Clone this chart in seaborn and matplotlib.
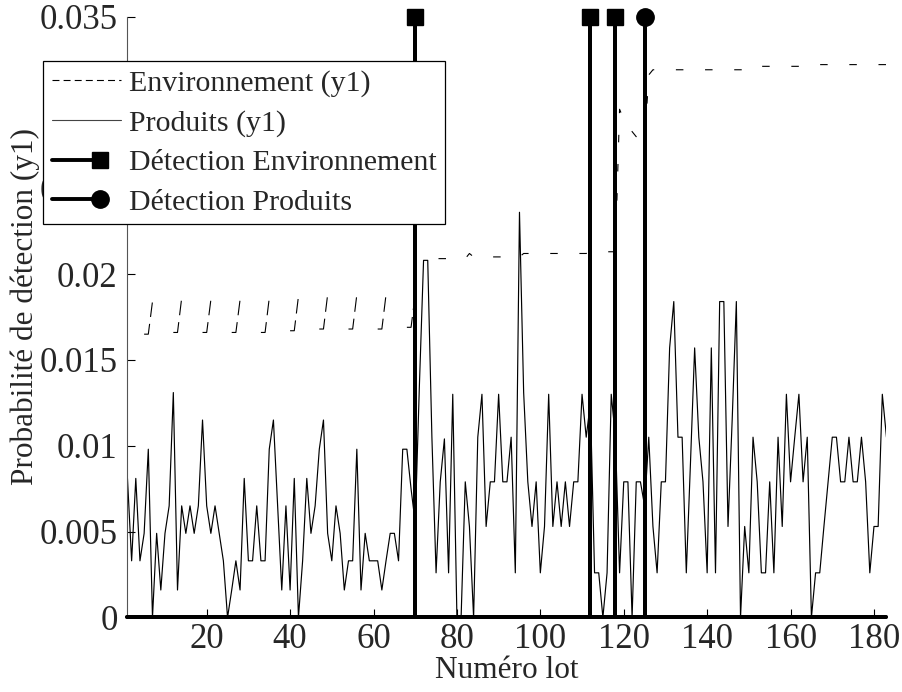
import numpy as np
import pandas as pd
import matplotlib
matplotlib.use("Agg")
import matplotlib.pyplot as plt
import seaborn as sns
from matplotlib.lines import Line2D
from matplotlib.legend_handler import HandlerLine2D

# ---------------- data ----------------
lots = list(range(1, 184))

produits = [
    0.0081, 0.0033, 0.0081, 0.0033, 0.0049, 0.0098, 0.0, 0.0049, 0.0016, 0.0049,
    0.0065, 0.0131, 0.0016, 0.0065, 0.0049, 0.0065, 0.0049, 0.0065, 0.0115, 0.0065,
    0.0049, 0.0065, 0.0049, 0.0033, 0.0, 0.0016, 0.0033, 0.0016, 0.0081, 0.0033,
    0.0033, 0.0065, 0.0033, 0.0033, 0.0098, 0.0115, 0.0065, 0.0016, 0.0065, 0.0016,
    0.0081, 0.0, 0.0033, 0.0081, 0.0049, 0.0065, 0.0098, 0.0115, 0.0049, 0.0033,
    0.0065, 0.0049, 0.0016, 0.0033, 0.0033, 0.0098, 0.0016, 0.0049, 0.0033, 0.0033,
    0.0033, 0.0016, 0.0033, 0.0049, 0.0049, 0.0033, 0.0098, 0.0098, 0.0075, 0.0055,
    0.0135, 0.0208, 0.0208, 0.0105, 0.0026, 0.0079, 0.0104, 0.0026, 0.0130, 0.0,
    0.0, 0.0079, 0.0053, 0.0, 0.0105, 0.0130, 0.0053, 0.0079, 0.0079, 0.0130,
    0.0079, 0.0079, 0.0105, 0.0026, 0.0236, 0.0131, 0.0079, 0.0053, 0.0079, 0.0026,
    0.0053, 0.0130, 0.0053, 0.0079, 0.0053, 0.0079, 0.0053, 0.0079, 0.0079, 0.0130,
    0.0105, 0.0125, 0.0026, 0.0026, 0.0, 0.0026, 0.0130, 0.0105, 0.0026, 0.0079,
    0.0079, 0.0, 0.0079, 0.0079, 0.0065, 0.0105, 0.0053, 0.0026, 0.0079, 0.0079,
    0.0157, 0.0184, 0.0105, 0.0105, 0.0026, 0.0090, 0.0157, 0.0105, 0.0079, 0.0026,
    0.0157, 0.0026, 0.0184, 0.0184, 0.0053, 0.0115, 0.0184, 0.0, 0.0053, 0.0026,
    0.0105, 0.0079, 0.0026, 0.0026, 0.0079, 0.0026, 0.0105, 0.0053, 0.0130, 0.0079,
    0.0105, 0.0130, 0.0079, 0.0105, 0.0, 0.0026, 0.0026, 0.0053, 0.0079, 0.0105,
    0.0105, 0.0079, 0.0079, 0.0105, 0.0079, 0.0079, 0.0105, 0.0079, 0.0026, 0.0053,
    0.0053, 0.0130, 0.0105,
]

# Environnement: early saw-teeth (start lot, low value, high value)
env_tooth_start = [5, 12, 19, 26, 33, 40, 47, 54, 61, 68]
env_tooth_low = [0.0165, 0.0166, 0.0166, 0.0166, 0.0166, 0.0167, 0.0168, 0.0168, 0.0168, 0.0169]
env_tooth_high = [0.0184, 0.0186, 0.0185, 0.0185, 0.0186, 0.0187, 0.0188, 0.0188, 0.0188, 0.0188]

# Environnement after the first detection (lots 71..183)
env_plateau_lots = list(range(71, 184))
env_plateau = ([0.0208] + [0.0209] * 11 + [0.0212] + [0.0210] * 12 + [0.0212] * 16
               + [0.0213] * 7
               + [0.0296, 0.0290, 0.0286, 0.0283, 0.0280, 0.0277, 0.0276]
               + [0.0316] + [0.0319] * 25 + [0.0321] + [0.0321] * 13 + [0.0322] * 18)

det_env_lots = [70, 112, 118]
det_prod_lots = [125]
det_level = 0.035

x_ticks = [20, 40, 60, 80, 100, 120, 140, 160, 180]
y_ticks = [0, 0.005, 0.01, 0.015, 0.02, 0.025, 0.03, 0.035]
y_tick_labels = ["0", "0.005", "0.01", "0.015", "0.02", "0.025", "0.03", "0.035"]

labels = ["Environnement (y1)", "Produits (y1)",
          "Détection Environnement", "Détection Produits"]

# ---------------- style ----------------
sns.set_style("ticks")
plt.rcParams["font.family"] = ["Liberation Serif", "DejaVu Serif"]
plt.rcParams["lines.scale_dashes"] = False
FS_TICK = 25
FS_LABEL = 22.5
FS_LEG = 21.5

fig = plt.figure(figsize=(9.02, 6.92), dpi=100)
ax = fig.add_axes([0.1413, 0.1077, 0.8415, 0.8684])

# Produits
prod_df = pd.DataFrame({"lot": lots, "p": produits})
sns.lineplot(data=prod_df, x="lot", y="p", ax=ax, color="black", lw=0.85,
             estimator=None, legend=False, zorder=2)

# Environnement teeth (one unit per tooth)
rows = []
for i, (a, lo, hi) in enumerate(zip(env_tooth_start, env_tooth_low, env_tooth_high)):
    rows += [(a, lo, i), (a + 1, lo, i), (a + 2, hi, i)]
teeth_df = pd.DataFrame(rows, columns=["lot", "p", "seg"])
sns.lineplot(data=teeth_df, x="lot", y="p", units="seg", estimator=None, ax=ax,
             color="black", lw=0.8, legend=False, zorder=2,
             linestyle=(0, (10.5, 5.0)))

plat_df = pd.DataFrame({"lot": env_plateau_lots, "p": env_plateau})
sns.lineplot(data=plat_df, x="lot", y="p", estimator=None, ax=ax,
             color="black", lw=0.8, legend=False, zorder=2,
             linestyle=(7.0, (5.4, 15.6)))


def spike_path(events):
    xs, ys, tops = [lots[0]], [0.0], []
    for e in events:
        xs += [e, e, e]
        ys += [0.0, det_level, 0.0]
        tops.append(len(xs) - 2)
    xs.append(lots[-1])
    ys.append(0.0)
    return xs, ys, tops


xs, ys, tops = spike_path(det_env_lots)
ax.plot(xs, ys, color="black", lw=2.8, marker="s", markersize=12,
        markevery=tops, clip_on=False, zorder=4, solid_joinstyle="miter")
xs, ys, tops = spike_path(det_prod_lots)
ax.plot(xs, ys, color="black", lw=2.8, marker="o", markersize=12.5,
        markevery=tops, clip_on=False, zorder=4, solid_joinstyle="miter")

# ---------------- axes ----------------
ax.set_xlim(lots[0], lots[-1])
ax.set_ylim(0, 0.035)
ax.set_xticks(x_ticks)
ax.set_xticklabels([str(t) for t in x_ticks])
ax.set_yticks(y_ticks)
ax.set_yticklabels(y_tick_labels)
ax.tick_params(axis="both", direction="in", length=5.5, width=0.8,
               labelsize=FS_TICK, color="black")
ax.tick_params(axis="x", pad=4)
ax.tick_params(axis="y", pad=7)
for s in ["top", "right"]:
    ax.spines[s].set_visible(False)
ax.spines["left"].set_color("#555555")
ax.spines["left"].set_linewidth(0.8)
ax.spines["bottom"].set_linewidth(0.8)
ax.set_xlabel("Numéro lot", fontsize=FS_LABEL, labelpad=0)
ax.set_ylabel("Probabilité de détection (y1)", fontsize=FS_LABEL)
ax.yaxis.set_label_coords(-0.115, 0.517)
ax.grid(False)


# ---------------- legend ----------------
class EndMarkerHandler(HandlerLine2D):
    def create_artists(self, legend, orig_handle, xdescent, ydescent,
                       width, height, fontsize, trans):
        x0 = -xdescent
        x1 = -xdescent + 0.7 * width
        y = (height - ydescent) / 2
        line = Line2D([x0, x1], [y, y], markevery=[1])
        self.update_prop(line, orig_handle, legend)
        line.set_transform(trans)
        return [line]


h_env = Line2D([], [], color="black", lw=0.8, linestyle=(0, (5.0, 3.0)))
h_prod = Line2D([], [], color="#444444", lw=0.8)
h_denv = Line2D([], [], color="black", lw=2.8, marker="s", markersize=12)
h_dprod = Line2D([], [], color="black", lw=2.8, marker="o", markersize=12.5)

leg = ax.legend([h_env, h_prod, h_denv, h_dprod], labels,
                loc="upper left", bbox_to_anchor=(0.0477, 0.9123),
                bbox_transform=fig.transFigure, borderaxespad=0,
                fontsize=FS_LEG, handlelength=2.3, handletextpad=0.27,
                labelspacing=0.42, borderpad=0.3, fancybox=False,
                framealpha=1, edgecolor="black",
                handler_map={h_denv: EndMarkerHandler(),
                             h_dprod: EndMarkerHandler()})
leg.get_frame().set_linewidth(0.9)
leg.set_zorder(10)

fig.savefig("out.png", dpi=100)
